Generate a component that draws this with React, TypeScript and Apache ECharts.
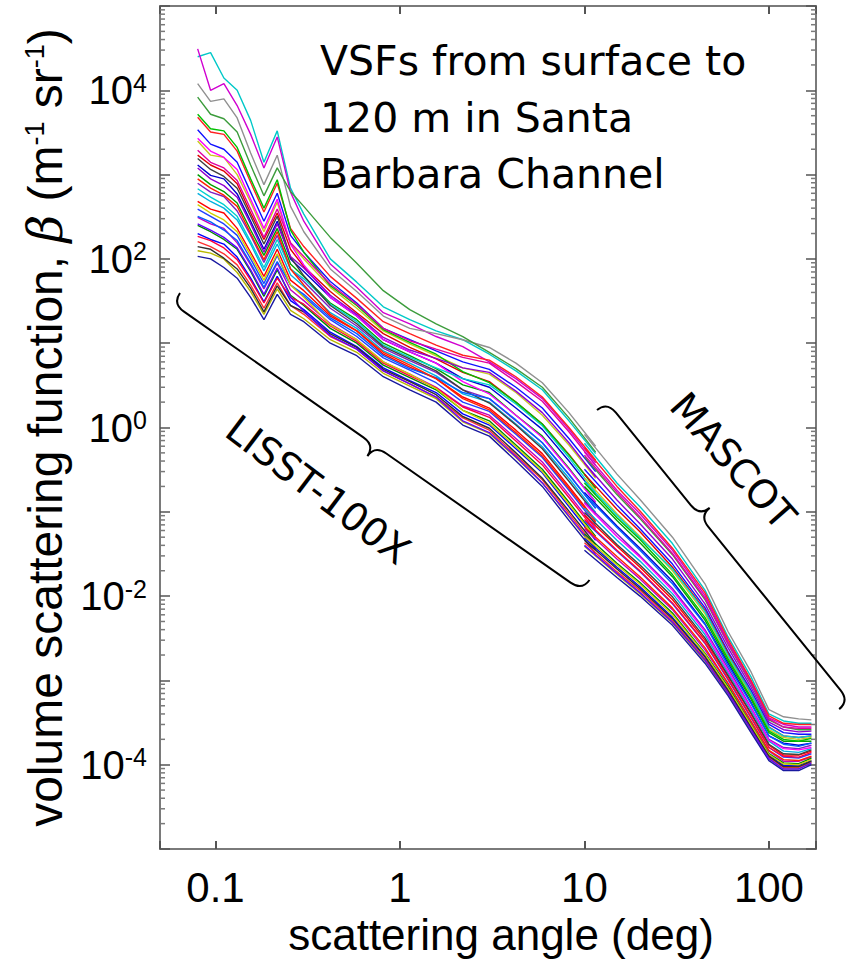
import React, { useEffect, useRef } from 'react';
import * as echarts from 'echarts';

// Scattering angles (deg)
const lisstAngles = [0.08, 0.094, 0.111, 0.131, 0.155, 0.183, 0.216, 0.255, 0.301, 0.419, 0.583, 0.812, 1.13, 1.57, 2.19, 3.05, 4.25, 5.91, 8.24, 11.5];
const mascotAngles = [10, 15, 20, 30, 45, 60, 80, 100, 120, 145, 170];

// VSF profiles (m^-1 sr^-1), LISST-100X part, one row per depth profile
const lisstVSF: number[][] = [
  [2.5e4, 2.8e4, 1.4e4, 1.0e4, 4.4e3, 1.4e3, 3.3e3, 6.9e2, 3.4e2, 1.0e2, 53, 27, 19, 14, 11, 7.4, 4.7, 2.8, 1.2, 0.49],
  [3.1e4, 1.0e4, 1.2e4, 6.6e3, 3.0e3, 1.2e3, 2.8e3, 6.2e2, 2.8e2, 87, 46, 23, 17, 12, 9.1, 6.0, 3.8, 2.2, 0.95, 0.38],
  [1.2e4, 7.4e3, 7.9e3, 4.7e3, 1.8e3, 7.6e2, 1.7e3, 4.2e2, 2.1e2, 76, 41, 21, 15, 13, 11, 8.9, 5.8, 3.4, 1.5, 0.60],
  [8.3e3, 5.2e3, 4.6e3, 3.2e3, 1.3e3, 5.6e2, 1.2e3, 6.3e2, 4.2e2, 1.8e2, 89, 42, 25, 17, 12, 7.8, 5.0, 3.0, 1.3, 0.51],
  [4.8e3, 3.2e3, 3.0e3, 1.9e3, 8.1e2, 3.6e2, 7.9e2, 2.3e2, 1.4e2, 62, 34, 18, 13, 9.5, 7.2, 6.3, 4.0, 2.3, 1.0, 0.41],
  [3.4e3, 2.3e3, 2.0e3, 1.4e3, 6.2e2, 2.8e2, 6.0e2, 1.9e2, 1.2e2, 54, 30, 15, 11, 8.1, 6.0, 4.9, 3.0, 1.7, 0.74, 0.30],
  [2.5e3, 1.7e3, 1.6e3, 1.0e3, 4.7e2, 2.1e2, 4.7e2, 1.5e2, 1.0e2, 46, 26, 14, 9.8, 7.1, 5.1, 4.3, 2.6, 1.4, 0.62, 0.25],
  [1.7e3, 1.3e3, 1.1e3, 7.8e2, 3.5e2, 1.7e2, 3.5e2, 1.3e2, 81, 41, 23, 13, 8.9, 6.5, 4.5, 3.5, 2.0, 1.1, 0.48, 0.19],
  [1.3e3, 9.8e2, 8.9e2, 5.9e2, 2.8e2, 1.3e2, 2.8e2, 1.0e2, 71, 35, 21, 11, 7.9, 5.8, 3.8, 3.0, 1.7, 0.95, 0.40, 0.16],
  [1.0e3, 7.6e2, 6.3e2, 4.6e2, 2.2e2, 1.1e2, 2.3e2, 87, 62, 30, 19, 10, 7.1, 5.0, 3.2, 2.6, 1.4, 0.79, 0.33, 0.13],
  [7.9e2, 6.2e2, 5.5e2, 3.7e2, 1.9e2, 91, 1.9e2, 76, 54, 26, 16, 8.7, 6.2, 4.5, 2.8, 2.2, 1.2, 0.66, 0.28, 0.11],
  [6.0e2, 4.8e2, 4.0e2, 2.9e2, 1.5e2, 72, 1.5e2, 65, 47, 23, 15, 8.1, 5.8, 4.1, 2.5, 2.0, 1.1, 0.59, 0.25, 0.098],
  [4.8e2, 3.9e2, 3.5e2, 2.3e2, 1.2e2, 62, 1.3e2, 56, 42, 21, 14, 7.4, 5.2, 3.8, 2.3, 1.7, 0.93, 0.49, 0.20, 0.079],
  [3.9e2, 3.2e2, 2.6e2, 1.9e2, 1.0e2, 51, 1.1e2, 49, 36, 19, 12, 6.7, 4.8, 3.4, 2.0, 1.55, 0.83, 0.44, 0.18, 0.071],
  [3.1e2, 2.6e2, 2.3e2, 1.55e2, 85, 44, 89, 43, 32, 17, 11, 6.0, 4.3, 3.0, 1.8, 1.4, 0.74, 0.39, 0.16, 0.063],
  [2.5e2, 2.1e2, 1.7e2, 1.3e2, 71, 36, 74, 37, 28, 15, 10, 5.5, 3.9, 2.8, 1.6, 1.2, 0.62, 0.32, 0.13, 0.051],
  [2.0e2, 1.7e2, 1.5e2, 1.05e2, 59, 31, 62, 32, 25, 13.5, 9.1, 5.1, 3.6, 2.6, 1.45, 1.07, 0.56, 0.29, 0.115, 0.046],
  [1.6e2, 1.4e2, 1.15e2, 85, 49, 26, 52, 28, 22, 12, 8.5, 4.7, 3.3, 2.3, 1.3, 0.93, 0.47, 0.24, 0.095, 0.038],
  [1.25e2, 1.17e2, 1.0e2, 69, 41, 22, 44, 24.5, 19.5, 11, 7.8, 4.4, 3.1, 2.2, 1.17, 0.85, 0.44, 0.22, 0.087, 0.035],
  [1.07e2, 1.0e2, 79, 59, 35, 19, 38, 22, 18, 10, 7.1, 4.0, 2.8, 2.0, 1.07, 0.79, 0.40, 0.20, 0.079, 0.032],
  [2.7e3, 1.9e3, 1.6e3, 1.15e3, 5.1e2, 2.3e2, 5.1e2, 1.5e2, 85, 35, 21, 11, 7.9, 5.8, 3.5, 2.5, 1.4, 0.76, 0.32, 0.13],
  [6.8e2, 5.4e2, 4.4e2, 3.2e2, 1.6e2, 79, 1.7e2, 76, 58, 29, 18, 9.5, 6.8, 5.1, 3.8, 3.2, 1.9, 1.05, 0.44, 0.17],
  [1.55e3, 1.15e3, 9.5e2, 6.9e2, 3.2e2, 1.5e2, 3.2e2, 1.05e2, 63, 28, 17, 9.1, 6.5, 4.7, 2.8, 1.95, 1.07, 0.56, 0.23, 0.093],
  [3.2e2, 2.75e2, 2.2e2, 1.65e2, 89, 46, 93, 49, 38, 20, 13, 7.1, 5.0, 3.9, 2.6, 2.2, 1.23, 0.66, 0.275, 0.11],
  [5.2e3, 3.5e3, 3.3e3, 2.1e3, 8.9e2, 4.0e2, 8.7e2, 2.2e2, 1.2e2, 48, 28, 14.5, 10.2, 7.4, 4.6, 3.4, 2.0, 1.1, 0.47, 0.19],
  [1.85e2, 1.65e2, 1.35e2, 98, 56, 30, 59, 35, 29, 16, 10.5, 5.8, 4.1, 2.95, 1.75, 1.32, 0.69, 0.36, 0.148, 0.059],
  [1.2e3, 8.9e2, 7.4e2, 5.4e2, 2.6e2, 1.2e2, 2.6e2, 1.07e2, 78, 37, 22, 11.7, 8.3, 6.6, 5.1, 4.5, 2.7, 1.5, 0.66, 0.26],
  [4.4e2, 3.5e2, 2.9e2, 2.1e2, 1.1e2, 56, 1.15e2, 49, 35, 16.5, 11, 6.0, 4.3, 2.9, 1.6, 1.12, 0.59, 0.30, 0.123, 0.049],
  [1.95e3, 1.4e3, 1.2e3, 8.5e2, 3.9e2, 1.8e2, 3.9e2, 1.55e2, 1.07e2, 50, 29, 15, 10.7, 8.5, 6.8, 5.8, 3.5, 2.05, 0.89, 0.355],
  [1.4e2, 1.3e2, 1.02e2, 76, 45, 23.5, 48, 28, 23.5, 12.9, 8.9, 4.9, 3.5, 2.45, 1.35, 0.98, 0.50, 0.25, 0.102, 0.041],
  [8.9e2, 6.9e2, 5.7e2, 4.2e2, 2.0e2, 98, 2.1e2, 76, 49, 22, 14, 7.8, 5.5, 3.8, 2.2, 1.62, 0.87, 0.46, 0.19, 0.076],
  [2.6e2, 2.2e2, 1.8e2, 1.35e2, 74, 38, 78, 35, 24, 12.3, 8.5, 4.7, 3.3, 2.3, 1.2, 0.87, 0.45, 0.22, 0.089, 0.036],
];

// VSF profiles (m^-1 sr^-1), MASCOT part, same profile order
const mascotVSF: number[][] = [
  [0.65, 0.22, 0.115, 0.042, 0.0118, 3.3e-3, 1.1e-3, 4.0e-4, 3.3e-4, 3.1e-4, 3.1e-4],
  [0.51, 0.18, 0.095, 0.035, 0.0102, 2.9e-3, 9.8e-4, 3.6e-4, 3.0e-4, 2.8e-4, 2.8e-4],
  [0.83, 0.28, 0.14, 0.050, 0.014, 3.8e-3, 1.26e-3, 4.5e-4, 3.7e-4, 3.5e-4, 3.4e-4],
  [0.45, 0.16, 0.083, 0.031, 9.1e-3, 2.7e-3, 9.1e-4, 3.4e-4, 2.8e-4, 2.6e-4, 2.6e-4],
  [0.58, 0.20, 0.102, 0.037, 0.011, 3.1e-3, 1.0e-3, 3.8e-4, 3.1e-4, 3.0e-4, 3.0e-4],
  [0.32, 0.12, 0.063, 0.024, 7.3e-3, 2.2e-3, 7.6e-4, 3.0e-4, 2.4e-4, 2.3e-4, 2.3e-4],
  [0.25, 0.095, 0.051, 0.020, 6.2e-3, 1.9e-3, 6.8e-4, 2.6e-4, 2.1e-4, 2.0e-4, 2.1e-4],
  [0.28, 0.107, 0.058, 0.022, 6.8e-3, 2.1e-3, 7.1e-4, 2.8e-4, 2.2e-4, 2.1e-4, 2.2e-4],
  [0.17, 0.068, 0.037, 0.015, 4.7e-3, 1.6e-3, 5.5e-4, 2.2e-4, 1.8e-4, 1.7e-4, 1.8e-4],
  [0.20, 0.079, 0.043, 0.017, 5.2e-3, 1.7e-3, 6.0e-4, 2.4e-4, 1.9e-4, 1.9e-4, 1.9e-4],
  [0.13, 0.055, 0.030, 0.0123, 4.0e-3, 1.4e-3, 4.8e-4, 2.0e-4, 1.6e-4, 1.55e-4, 1.7e-4],
  [0.11, 0.046, 0.026, 0.0107, 3.5e-3, 1.23e-3, 4.4e-4, 1.9e-4, 1.45e-4, 1.4e-4, 1.55e-4],
  [0.091, 0.039, 0.022, 9.1e-3, 3.0e-3, 1.12e-3, 4.0e-4, 1.7e-4, 1.3e-4, 1.3e-4, 1.45e-4],
  [0.078, 0.034, 0.0195, 8.1e-3, 2.75e-3, 1.02e-3, 3.6e-4, 1.6e-4, 1.23e-4, 1.2e-4, 1.35e-4],
  [0.063, 0.0275, 0.016, 6.9e-3, 2.3e-3, 9.1e-4, 3.2e-4, 1.45e-4, 1.1e-4, 1.1e-4, 1.23e-4],
  [0.055, 0.0245, 0.0145, 6.3e-3, 2.1e-3, 8.5e-4, 3.0e-4, 1.35e-4, 1.05e-4, 1.03e-4, 1.2e-4],
  [0.049, 0.022, 0.0129, 5.6e-3, 1.95e-3, 7.9e-4, 2.8e-4, 1.3e-4, 9.8e-5, 9.8e-5, 1.12e-4],
  [0.043, 0.0195, 0.0117, 5.1e-3, 1.8e-3, 7.4e-4, 2.6e-4, 1.23e-4, 9.3e-5, 9.3e-5, 1.07e-4],
  [0.039, 0.018, 0.0107, 4.8e-3, 1.7e-3, 6.9e-4, 2.5e-4, 1.17e-4, 8.9e-5, 8.9e-5, 1.05e-4],
  [0.035, 0.0166, 0.010, 4.5e-3, 1.6e-3, 6.6e-4, 2.4e-4, 1.12e-4, 8.5e-5, 8.5e-5, 1.0e-4],
  [0.126, 0.051, 0.029, 0.0117, 3.8e-3, 1.3e-3, 4.7e-4, 1.95e-4, 1.55e-4, 1.5e-4, 1.6e-4],
  [0.23, 0.091, 0.049, 0.021, 6.6e-3, 2.0e-3, 7.1e-4, 2.75e-4, 2.2e-4, 2.1e-4, 2.2e-4],
  [0.098, 0.041, 0.0234, 9.8e-3, 3.2e-3, 1.15e-3, 4.1e-4, 1.75e-4, 1.35e-4, 1.32e-4, 1.5e-4],
  [0.162, 0.065, 0.035, 0.014, 4.6e-3, 1.5e-3, 5.3e-4, 2.2e-4, 1.75e-4, 1.65e-4, 1.8e-4],
  [0.22, 0.085, 0.047, 0.018, 5.6e-3, 1.8e-3, 6.3e-4, 2.5e-4, 2.0e-4, 1.9e-4, 2.05e-4],
  [0.081, 0.035, 0.020, 8.3e-3, 2.8e-3, 1.05e-3, 3.7e-4, 1.6e-4, 1.26e-4, 1.23e-4, 1.4e-4],
  [0.38, 0.138, 0.072, 0.0275, 8.1e-3, 2.45e-3, 8.3e-4, 3.2e-4, 2.6e-4, 2.45e-4, 2.5e-4],
  [0.051, 0.0234, 0.0138, 6.0e-3, 2.05e-3, 8.1e-4, 2.95e-4, 1.32e-4, 1.02e-4, 1.0e-4, 1.15e-4],
  [0.47, 0.17, 0.087, 0.032, 9.5e-3, 2.75e-3, 9.3e-4, 3.5e-4, 2.8e-4, 2.7e-4, 2.7e-4],
  [0.046, 0.021, 0.0123, 5.4e-3, 1.9e-3, 7.6e-4, 2.75e-4, 1.26e-4, 9.5e-5, 9.5e-5, 1.1e-4],
  [0.066, 0.0295, 0.017, 7.2e-3, 2.45e-3, 9.3e-4, 3.3e-4, 1.48e-4, 1.15e-4, 1.12e-4, 1.26e-4],
  [0.040, 0.0186, 0.011, 4.9e-3, 1.74e-3, 7.1e-4, 2.6e-4, 1.18e-4, 8.9e-5, 8.9e-5, 1.05e-4],
];

const profileColors = [
  '#00c8c8', '#d000d0', '#909090', '#3c9c3c', '#ff2020', '#1010ff', '#c8c820', '#e00000', '#0000d0', '#00a000',
  '#8020c0', '#00b0e0', '#ff0000', '#2040ff', '#c000c0', '#008800', '#0000ff', '#ff3030', '#b8b800', '#1818a0',
  '#ff00ff', '#00d0d0', '#404040', '#0060ff', '#00c000', '#ff0040', '#9000d0', '#d0d000', '#e000a0', '#303030',
  '#ff2000', '#6000ff',
];

// Axis ranges & tick labels
const xRange = [0.05, 180];
const yRange = [1e-5, 1e5];
const xTickLabels = ['0.1', '1', '10', '100'];
const yLabelExponents = [-4, -2, 0, 2, 4];

const yMinorTicks: number[] = [];
for (let e = -5; e < 5; e++) {
  for (let m = 2; m <= 9; m++) yMinorTicks.push(m * Math.pow(10, e));
}

function braceD(L: number, tip: number, h: number, r: number) {
  return `M0 0 Q0 ${h} ${r} ${h} L${tip - r} ${h} Q${tip} ${h} ${tip} ${2 * h} Q${tip} ${h} ${tip + r} ${h} L${L - r} ${h} Q${L} ${h} ${L} 0`;
}

const SANS = "'Liberation Sans', Arial, sans-serif";
const ANNOT = "'DejaVu Sans', sans-serif";
const FRAME = '#7a7a7a';

function isDecade(v: number) {
  const l = Math.log10(v);
  return Math.abs(l - Math.round(l)) < 1e-6;
}

export default function App() {
  const ref = useRef<HTMLDivElement>(null);
  useEffect(() => {
    if (!ref.current) return;
    echarts.graphic.registerShape('braceLisst', echarts.graphic.extendPath(braceD(500, 247, 13, 14), {}) as any);
    echarts.graphic.registerShape('braceMascot', echarts.graphic.extendPath(braceD(385, 147, 13, 14), {}) as any);
    const chart = echarts.init(ref.current, null, { renderer: 'svg' });

    const series: any[] = [];
    lisstVSF.forEach((row, i) => {
      series.push({
        type: 'line', xAxisIndex: 0, yAxisIndex: 0, symbol: 'none', silent: true,
        lineStyle: { color: profileColors[i], width: 1.4 },
        data: row.map((v, j) => [lisstAngles[j], v]),
      });
    });
    mascotVSF.forEach((row, i) => {
      series.push({
        type: 'line', xAxisIndex: 0, yAxisIndex: 0, symbol: 'none', silent: true,
        lineStyle: { color: profileColors[i], width: 1.4 },
        data: row.map((v, j) => [mascotAngles[j], v]),
      });
    });
    series.push({
      type: 'custom', xAxisIndex: 0, yAxisIndex: 0, silent: true, clip: false, z: 5,
      data: yMinorTicks.map((v) => [1, v]),
      renderItem: (params: any, api: any) => {
        const y = api.coord([1, api.value(1)])[1];
        const cs = params.coordSys;
        const st = { stroke: FRAME, lineWidth: 1.5 };
        return {
          type: 'group',
          children: [
            { type: 'line', shape: { x1: cs.x, y1: y, x2: cs.x + 5, y2: y }, style: st },
            { type: 'line', shape: { x1: cs.x + cs.width - 5, y1: y, x2: cs.x + cs.width, y2: y }, style: st },
          ],
        };
      },
    });

    const xCommon = {
      type: 'log', min: xRange[0], max: xRange[1], logBase: 10,
      splitLine: { show: false },
      axisLine: { show: true, onZero: false, lineStyle: { color: FRAME, width: 2 } },
      axisTick: { show: true, inside: true, length: 8, lineStyle: { color: '#555', width: 2 } },
      minorTick: { show: false },
    };
    const yCommon = {
      type: 'log', min: yRange[0], max: yRange[1], logBase: 10, splitNumber: 10, interval: 1,
      splitLine: { show: false },
      axisLine: { show: true, onZero: false, lineStyle: { color: FRAME, width: 2 } },
      axisTick: { show: true, inside: true, length: 10, lineStyle: { color: '#555', width: 1.5 } },
      minorTick: { show: false },
    };

    const option: any = {
      animation: false,
      backgroundColor: '#ffffff',
      grid: { left: 160, right: 40, top: 6, bottom: 112, containLabel: false, outerBoundsMode: 'none' },
      xAxis: [
        {
          ...xCommon, position: 'bottom',
          axisLabel: {
            show: true, margin: 17, color: '#000', fontSize: 42, fontFamily: SANS,
            formatter: (v: number) => {
              if (!isDecade(v)) return '';
              const s = String(Math.round(v * 10) / 10);
              return xTickLabels.indexOf(s) >= 0 ? s : '';
            },
          },
          name: 'scattering angle (deg)', nameLocation: 'middle', nameGap: 55,
          nameTextStyle: { fontSize: 44, fontFamily: SANS, color: '#000', padding: [0, 0, 0, 26] },
        },
        { ...xCommon, position: 'top', axisLabel: { show: false } },
      ],
      yAxis: [
        {
          ...yCommon, position: 'left',
          axisLabel: {
            show: true, margin: 13, color: '#000',
            formatter: (v: number) => {
              if (!isDecade(v)) return '';
              const e = Math.round(Math.log10(v));
              if (yLabelExponents.indexOf(e) < 0) return '';
              return `{b|10}{s|${e}}`;
            },
            rich: {
              b: { fontSize: 40, fontFamily: SANS, color: '#000' },
              s: { fontSize: 25, fontFamily: SANS, color: '#000', verticalAlign: 'top' },
            },
          },
          name: 'volume scattering function, {i|β} (m{s|-1} sr{s|-1})',
          nameLocation: 'middle', nameGap: 90,
          nameTextStyle: {
            fontSize: 48, fontFamily: SANS, color: '#000',
            rich: {
              i: { fontSize: 48, fontFamily: "'DejaVu Serif', 'Liberation Serif', serif", fontStyle: 'italic', color: '#000' },
              s: { fontSize: 27, fontFamily: SANS, color: '#000', verticalAlign: 'top' },
            },
          },
        },
        { ...yCommon, position: 'right', axisLabel: { show: false } },
      ],
      series,
      graphic: [
        {
          type: 'text', left: 320, top: 33, z: 100,
          style: {
            text: 'VSFs from surface to\n120 m in Santa\nBarbara Channel',
            font: `41px ${ANNOT}`, fill: '#000', lineHeight: 56.5,
          },
        },
        {
          type: 'braceLisst', x: 180, y: 293, rotation: (-35 * Math.PI) / 180, z: 100,
          style: { fill: 'none', stroke: '#000', lineWidth: 2 },
        },
        {
          type: 'braceMascot', x: 597, y: 410, rotation: (-51 * Math.PI) / 180, scaleY: -1, z: 100,
          style: { fill: 'none', stroke: '#000', lineWidth: 2 },
        },
        {
          type: 'text', x: 318, y: 490, rotation: (-37 * Math.PI) / 180, z: 100,
          style: { text: 'LISST-100X', font: `39px ${ANNOT}`, fill: '#000', align: 'center', verticalAlign: 'middle' },
        },
        {
          type: 'text', x: 733, y: 461, rotation: (-48.6 * Math.PI) / 180, z: 100,
          style: { text: 'MASCOT', font: `39px ${ANNOT}`, fill: '#000', align: 'center', verticalAlign: 'middle' },
        },
      ],
    };
    chart.setOption(option);
    return () => chart.dispose();
  }, []);
  return <div ref={ref} style={{ position: 'absolute', left: 0, top: 0, width: 856, height: 961 }} />;
}
